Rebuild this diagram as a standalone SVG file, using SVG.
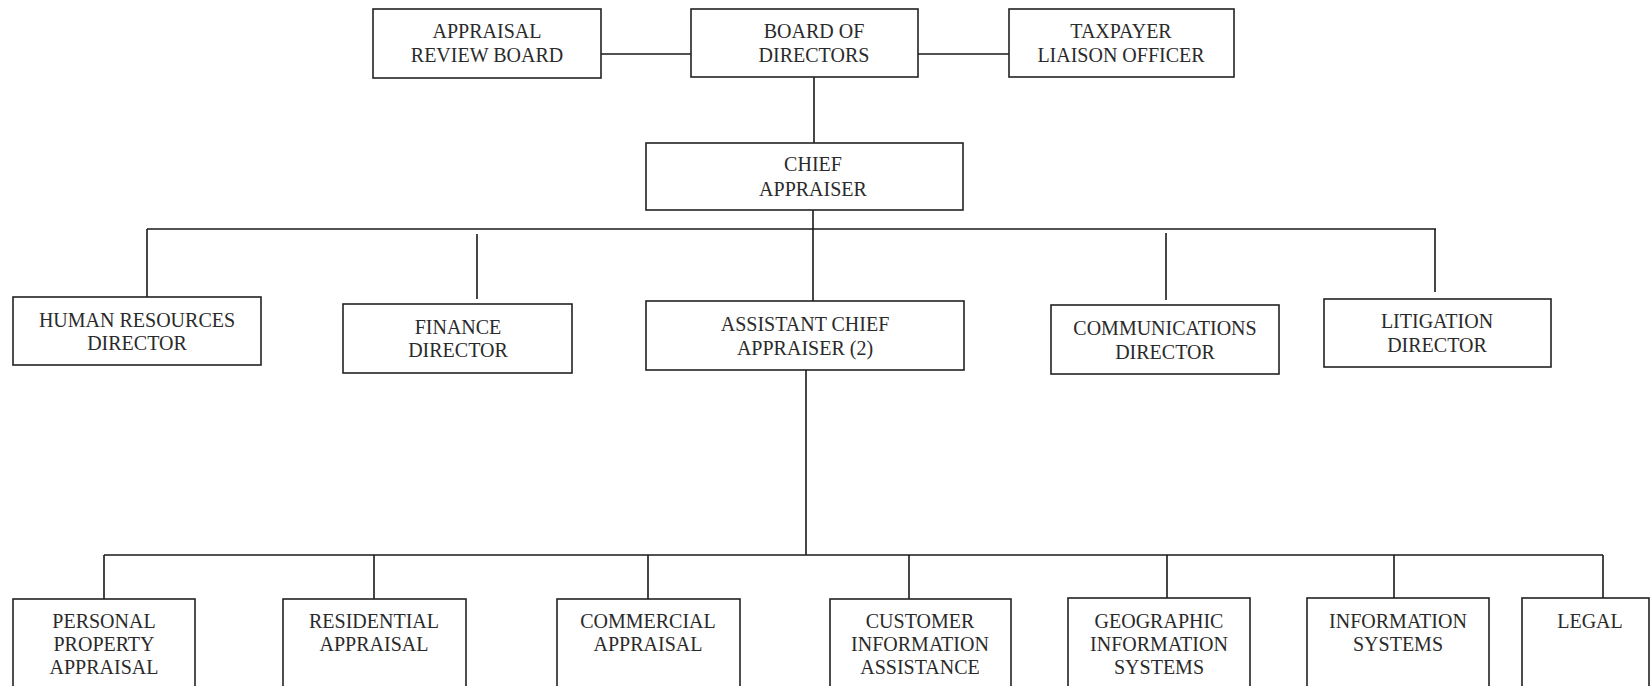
<svg xmlns="http://www.w3.org/2000/svg" width="1651" height="686" viewBox="0 0 1651 686">
<style>
.box{fill:#fff;stroke:#222;stroke-width:1.6}
.con{fill:none;stroke:#1a1a1a;stroke-width:1.6}
text{font-family:"Liberation Serif","Times New Roman",serif;font-size:20px;fill:#2a2a2a;text-anchor:middle}
</style>
<rect width="1651" height="686" fill="#fff"/>
<g id="connectors" class="con">
<path d="M601 54H691M918 54H1009M814 77V143M813 210V229"/>
<path d="M147 229H1436"/>
<path d="M147 229V297M477 234V299M813 229V301M1166 233V300M1435 229V292"/>
<path d="M806 370V555M104 555H1603"/>
<path d="M104 555V599M374 555V599M648 555V599M909 555V599M1167 555V598M1394 555V598M1603 555V598"/>
</g>
<g id="arb"><rect class="box" x="373" y="9" width="228" height="69"/><text x="487" y="38">APPRAISAL</text><text x="487" y="62">REVIEW BOARD</text></g>
<g id="board"><rect class="box" x="691" y="9" width="227" height="68"/><text x="814" y="38">BOARD OF</text><text x="814" y="62">DIRECTORS</text></g>
<g id="taxpayer"><rect class="box" x="1009" y="9" width="225" height="68"/><text x="1121" y="38">TAXPAYER</text><text x="1121" y="62">LIAISON OFFICER</text></g>
<g id="chief"><rect class="box" x="646" y="143" width="317" height="67"/><text x="813" y="171">CHIEF</text><text x="813" y="196">APPRAISER</text></g>
<g id="hr"><rect class="box" x="13" y="297" width="248" height="68"/><text x="137" y="327">HUMAN RESOURCES</text><text x="137" y="350">DIRECTOR</text></g>
<g id="finance"><rect class="box" x="343" y="304" width="229" height="69"/><text x="458" y="334">FINANCE</text><text x="458" y="357">DIRECTOR</text></g>
<g id="assistant"><rect class="box" x="646" y="301" width="318" height="69"/><text x="805" y="331">ASSISTANT CHIEF</text><text x="805" y="355">APPRAISER (2)</text></g>
<g id="communications"><rect class="box" x="1051" y="305" width="228" height="69"/><text x="1165" y="335">COMMUNICATIONS</text><text x="1165" y="359">DIRECTOR</text></g>
<g id="litigation"><rect class="box" x="1324" y="299" width="227" height="68"/><text x="1437" y="328">LITIGATION</text><text x="1437" y="352">DIRECTOR</text></g>
<g id="personal"><rect class="box" x="13" y="599" width="182" height="110"/><text x="104" y="628">PERSONAL</text><text x="104" y="651">PROPERTY</text><text x="104" y="674">APPRAISAL</text></g>
<g id="residential"><rect class="box" x="283" y="599" width="183" height="110"/><text x="374" y="628">RESIDENTIAL</text><text x="374" y="651">APPRAISAL</text></g>
<g id="commercial"><rect class="box" x="557" y="599" width="183" height="110"/><text x="648" y="628">COMMERCIAL</text><text x="648" y="651">APPRAISAL</text></g>
<g id="customer"><rect class="box" x="830" y="599" width="181" height="110"/><text x="920" y="628">CUSTOMER</text><text x="920" y="651">INFORMATION</text><text x="920" y="674">ASSISTANCE</text></g>
<g id="geographic"><rect class="box" x="1068" y="598" width="182" height="110"/><text x="1159" y="628">GEOGRAPHIC</text><text x="1159" y="651">INFORMATION</text><text x="1159" y="674">SYSTEMS</text></g>
<g id="infosys"><rect class="box" x="1307" y="598" width="182" height="110"/><text x="1398" y="628">INFORMATION</text><text x="1398" y="651">SYSTEMS</text></g>
<g id="legal"><rect class="box" x="1522" y="598" width="127" height="110"/><text x="1590" y="628">LEGAL</text></g>
</svg>
